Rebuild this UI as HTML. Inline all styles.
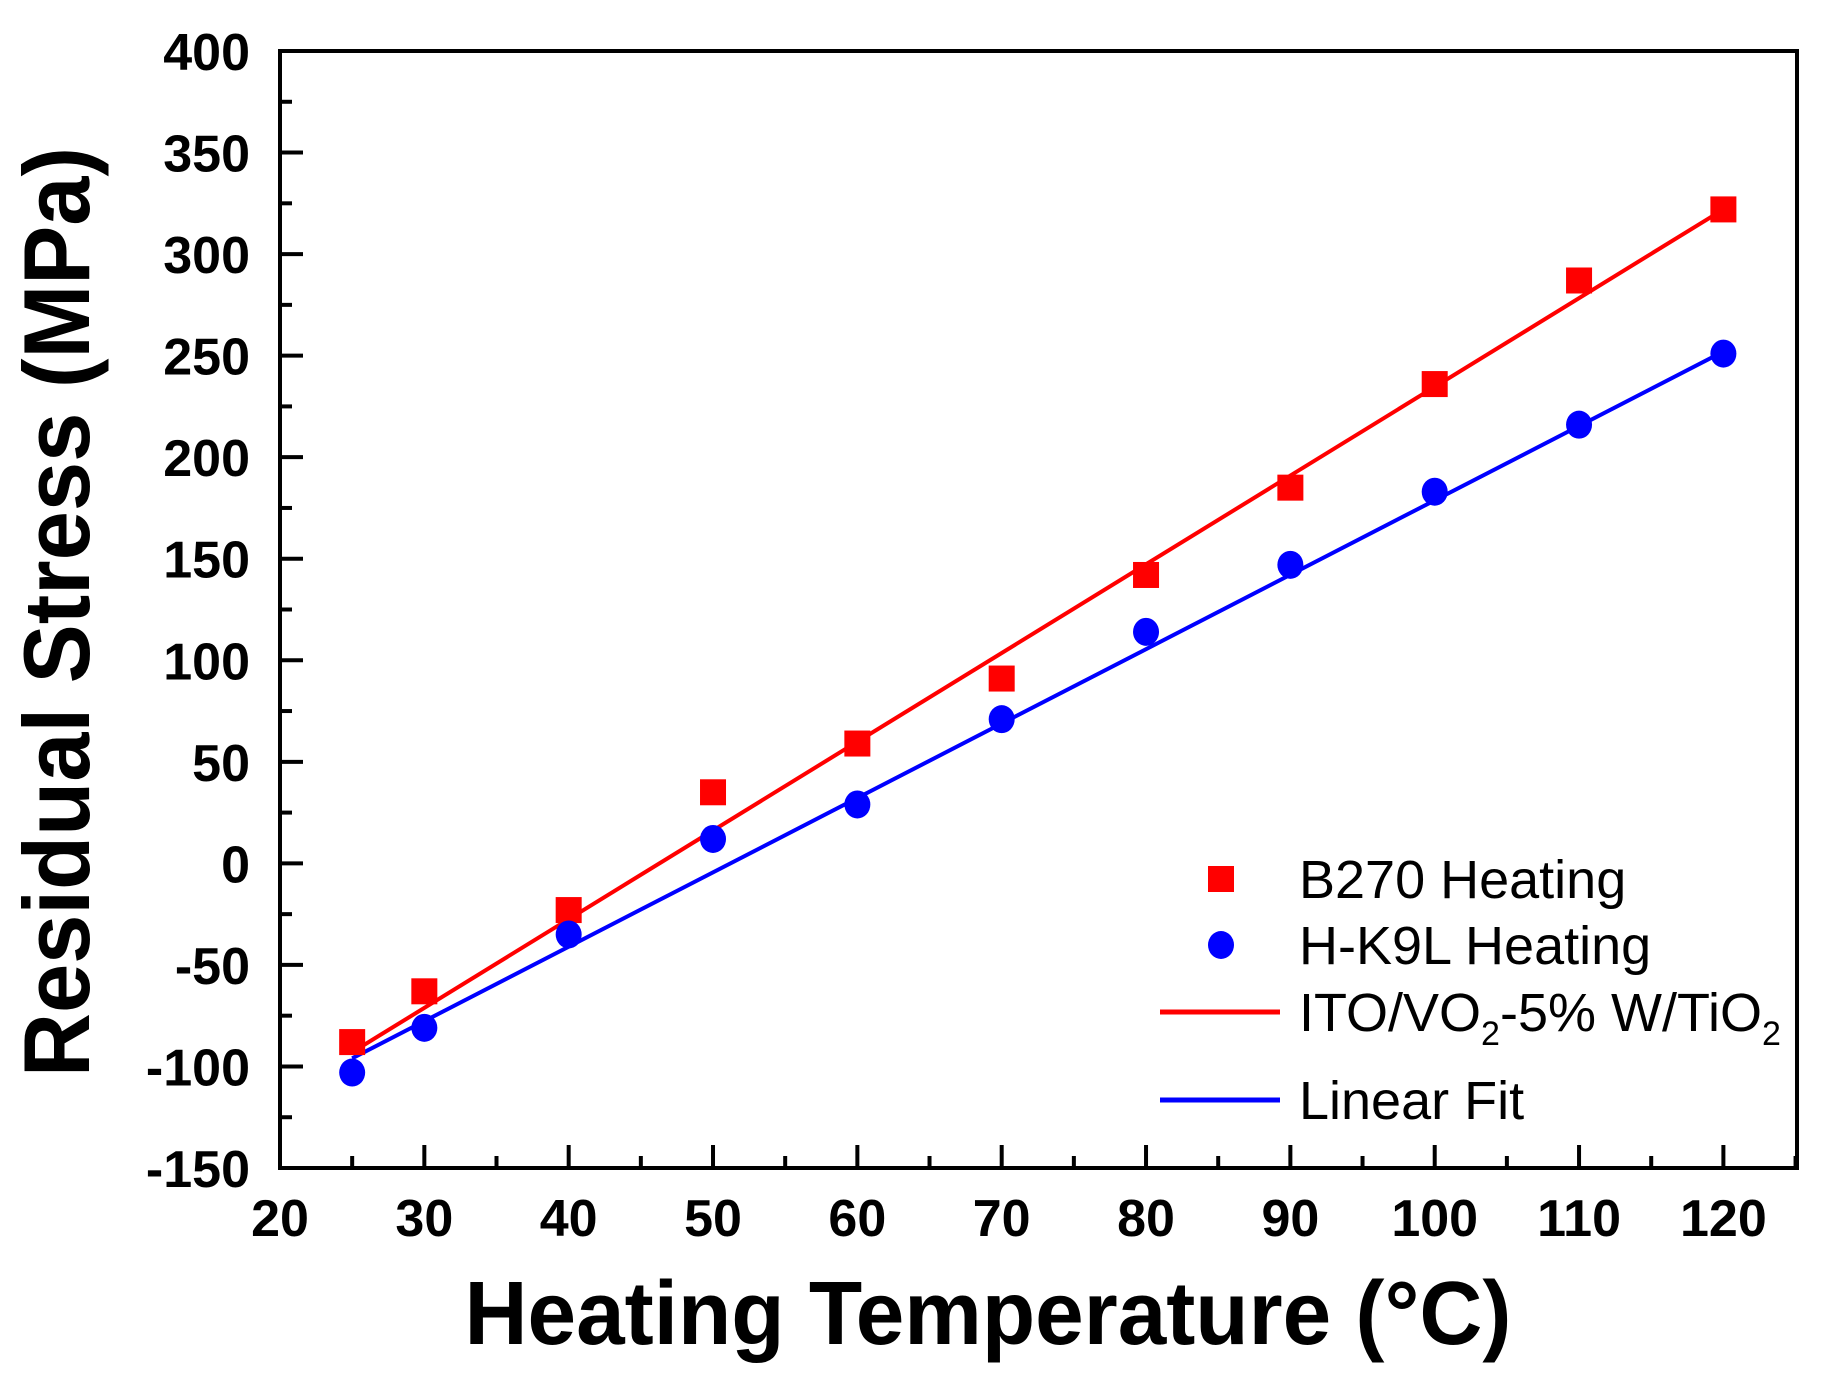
<!DOCTYPE html>
<html><head><meta charset="utf-8"><style>
html,body{margin:0;padding:0;background:#fff;}
svg{display:block;font-family:"Liberation Sans",Arial,sans-serif;}
</style></head><body>
<svg id="chart" width="1824" height="1398" viewBox="0 0 1824 1398">
<g id="plot"></g>
<text transform="translate(89,612) rotate(-90)" text-anchor="middle" font-size="94" font-weight="bold" textLength="930" lengthAdjust="spacingAndGlyphs">Residual Stress (MPa)</text>
<text x="988" y="1344" text-anchor="middle" font-size="90" font-weight="bold" textLength="1047" lengthAdjust="spacingAndGlyphs">Heating Temperature (°C)</text>
<g transform="translate(-7,-10)">
 <rect x="1215" y="876" width="26" height="26" fill="#ff0000"/>
 <text x="1306" y="908" font-size="54">B270 Heating</text>
 <ellipse cx="1228" cy="955" rx="13" ry="14" fill="#0000ff"/>
 <text x="1306" y="974" font-size="54">H-K9L Heating</text>
 <line x1="1167" y1="1022" x2="1287" y2="1022" stroke="#ff0000" stroke-width="5"/>
 <text x="1306" y="1041" font-size="54">ITO/VO<tspan font-size="34" dy="14">2</tspan><tspan dy="-14">-5% W/TiO</tspan><tspan font-size="34" dy="14">2</tspan></text>
 <line x1="1167" y1="1110" x2="1287" y2="1110" stroke="#0000ff" stroke-width="5"/>
 <text x="1306" y="1129" font-size="54">Linear Fit</text>
</g>
</svg>
<script>
const temps = [25, 30, 40, 50, 60, 70, 80, 90, 100, 110, 120];
const b270 = [-88, -63, -23, 35, 59, 91, 142, 185, 236, 287, 322];
const hk9l = [-103, -81, -35, 12, 29, 71, 114, 147, 183, 216, 251];
const redFitX = [25, 120];
const redFitY = [-93, 322];
const blueFitX = [25, 120];
const blueFitY = [-96, 252];
const xTicks = [20, 30, 40, 50, 60, 70, 80, 90, 100, 110, 120];
const yTicks = [-150, -100, -50, 0, 50, 100, 150, 200, 250, 300, 350, 400];

const L = 280, R = 1797, T = 51, B = 1168;
const xMin = 20, xMax = 125.1, yMin = -150, yMax = 400;
const sx = v => L + (v - xMin) / (xMax - xMin) * (R - L);
const sy = v => B - (v - yMin) / (yMax - yMin) * (B - T);
const NS = 'http://www.w3.org/2000/svg';
const g = document.getElementById('plot');
function mk(tag, attrs) { const e = document.createElementNS(NS, tag); for (const k in attrs) e.setAttribute(k, attrs[k]); g.appendChild(e); return e; }

let fr = mk('rect', {x: L, y: T, width: R - L, height: B - T, fill: 'none', stroke: '#000', 'stroke-width': 4});



for (let v = 20; v <= 125; v += 5) {
  const major = v % 10 === 0;
  const t = mk('line', {x1: sx(v), x2: sx(v), y1: B, y2: B - (major ? 23 : 12), stroke: '#000', 'stroke-width': 4});
  
  
}
xTicks.forEach(v => {
  const t = mk('text', {x: sx(v), y: 1236, 'text-anchor': 'middle', 'font-size': 52, 'font-weight': 'bold'});
  t.textContent = v;
  
  
});
for (let v = -150; v <= 400; v += 25) {
  const major = v % 50 === 0;
  const t = mk('line', {x1: L, x2: L + (major ? 23 : 12), y1: sy(v), y2: sy(v), stroke: '#000', 'stroke-width': 4});
  
  
}
yTicks.forEach(v => {
  const t = mk('text', {x: 250, y: sy(v) + 19, 'text-anchor': 'end', 'font-size': 52, 'font-weight': 'bold'});
  t.textContent = v;
  
  
});

let rl = mk('line', {x1: sx(redFitX[0]), y1: sy(redFitY[0]), x2: sx(redFitX[1]), y2: sy(redFitY[1]), stroke: '#ff0000', 'stroke-width': 4});


let bl = mk('line', {x1: sx(blueFitX[0]), y1: sy(blueFitY[0]), x2: sx(blueFitX[1]), y2: sy(blueFitY[1]), stroke: '#0000ff', 'stroke-width': 4});



temps.forEach((t, i) => {
  const s = mk('rect', {x: sx(t) - 13, y: sy(b270[i]) - 13, width: 26, height: 26, fill: '#ff0000'});
  
  
  const c = mk('ellipse', {cx: sx(t), cy: sy(hk9l[i]), rx: 13, ry: 14, fill: '#0000ff'});
  
  
});
</script>
</body></html>
